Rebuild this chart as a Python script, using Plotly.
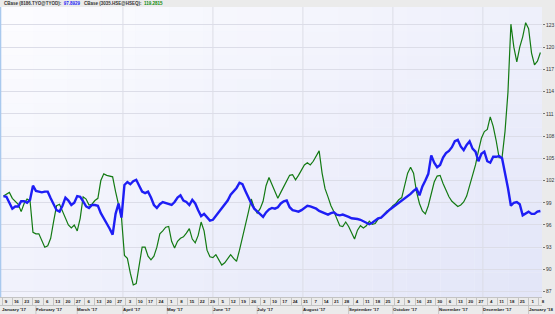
import plotly.graph_objects as go
import pandas as pd

# ---------------- data ----------------
dates = pd.date_range("2017-01-10", periods=183, freq="2D")

blue_8186 = [
    99.9, 99.8, 99.0, 98.2, 98.5, 98.5, 99.2, 99.2, 99.0, 99.4,
    101.3, 100.6, 100.5, 100.4, 100.5, 100.5, 99.6, 98.8, 98.0, 97.8,
    98.6, 99.7, 99.3, 98.7, 99.0, 99.9, 99.8, 99.2, 98.5, 98.3,
    98.7, 98.7, 98.6, 97.6, 96.8, 96.2, 95.5, 94.7, 97.5, 98.9,
    97.0, 101.4, 101.8, 101.5, 101.9, 102.1, 101.3, 100.5, 100.3, 100.5,
    99.7, 98.7, 98.3, 98.8, 99.1, 99.0, 98.9, 98.7, 99.1, 99.7,
    100.0, 99.3, 99.1, 98.7, 99.4, 98.9, 98.0, 97.2, 97.5, 97.1,
    96.6, 96.7, 97.2, 97.7, 98.2, 98.7, 99.3, 100.1, 100.6, 101.0,
    101.7, 101.5, 100.6, 99.7, 98.9, 98.2, 97.8, 97.4, 97.1, 97.7,
    98.1, 98.3, 98.2, 98.4, 98.9, 99.2, 99.3, 98.4, 98.0, 97.9,
    97.8, 98.0, 98.3, 98.6, 98.5, 98.4, 98.2, 97.9, 97.7, 97.5,
    97.4, 97.6, 97.7, 97.4, 97.3, 97.4, 97.3, 97.1, 96.9, 96.9,
    96.8, 96.7, 96.5, 96.3, 96.1, 96.3, 96.6, 96.9, 97.0, 97.4,
    97.7, 98.1, 98.4, 98.7, 99.0, 99.2, 99.6, 99.9, 100.2, 100.6,
    100.9, 100.0, 101.2, 102.0, 102.9, 105.4, 104.4, 103.8, 104.1, 105.1,
    105.7, 106.0, 106.5, 107.3, 107.5, 106.6, 106.1, 106.8, 107.3, 106.3,
    105.9, 104.6, 105.6, 105.9, 104.6, 104.4, 105.2, 105.2, 105.3, 105.0,
    103.2, 101.0, 98.6, 99.0, 99.1, 98.8, 97.3, 97.6, 97.8, 97.5,
    97.5, 97.8, 97.8929,
]

green_3035 = [
    99.9, 100.1, 100.4, 99.6, 99.2, 98.8, 97.8, 98.9, 99.5, 99.3,
    95.0, 94.8, 94.8, 93.8, 93.0, 93.2, 94.2, 96.5, 98.6, 98.8,
    97.8, 96.8, 96.0, 95.6, 96.0, 95.2, 96.9, 99.8, 99.5, 98.7,
    98.8, 99.3, 99.6, 102.0, 102.9, 102.7, 102.6, 102.5, 100.5, 98.8,
    97.0, 91.9, 91.5, 89.5, 87.9, 88.1, 90.6, 93.0, 93.0, 91.8,
    91.3, 91.8, 93.0, 94.8, 95.2, 95.7, 95.8, 93.8, 92.9, 93.8,
    94.2, 94.4, 94.9, 95.5, 94.1, 93.6, 94.6, 96.4, 95.2, 92.6,
    91.7, 91.6, 92.0, 91.2, 90.6, 90.9, 91.4, 92.0, 91.5, 91.1,
    92.6, 94.2, 96.0, 97.7, 99.5, 98.3, 97.6, 98.2, 99.2, 101.3,
    102.4, 101.5, 100.4, 99.6, 100.4, 101.2, 102.1, 102.7, 102.8, 102.1,
    102.7, 103.5, 104.1, 104.4, 104.1, 104.6, 105.4, 106.0, 103.0, 100.9,
    99.8, 98.6, 97.8, 96.9, 95.9, 95.8, 96.4, 95.8, 94.9, 94.1,
    95.3, 95.9, 95.6, 95.9, 96.5, 96.1, 96.2, 96.8, 97.0, 97.4,
    97.9, 98.1, 98.6, 98.9, 99.4, 99.7, 101.2, 103.0, 103.8, 103.0,
    100.5, 98.9, 97.9, 97.5, 98.6, 100.2, 101.8, 102.6, 102.7, 101.6,
    100.7, 99.8, 99.2, 98.9, 98.5, 98.7, 99.1, 99.9, 101.2, 102.5,
    104.1, 106.0, 107.7, 108.6, 108.9, 110.6, 109.3, 107.4, 105.1, 105.1,
    108.6, 113.9, 123.1, 120.0, 118.0, 120.0, 121.4, 123.3, 122.5, 119.2,
    117.6, 118.1, 119.2815,
]

blue_name = "CBase (8186.TYO@TYOD):"
green_name = "CBase (3035.HSE@HSEQ):"
blue_last = "97.8929"
green_last = "119.2815"

week_ticks = pd.date_range("2017-01-09", "2018-01-08", freq="7D")
week_labels = [str(d.day) for d in week_ticks]

month_starts = ["2017-01-09", "2017-02-01", "2017-03-01", "2017-04-01", "2017-05-01",
                "2017-06-01", "2017-07-01", "2017-08-01", "2017-09-01", "2017-10-01",
                "2017-11-01", "2017-12-01", "2018-01-01"]
month_labels = ["January '17", "February '17", "March '17", "April '17", "May '17",
                "June '17", "July '17", "August '17", "September '17", "October '17",
                "November '17", "December '17", "January '18"]
grid_dates = ["2017-04-01", "2017-06-01", "2017-08-01", "2017-10-01", "2017-12-01"]
y_ticks = list(range(87, 124, 3))

# ---------------- figure ----------------
W, H = 555, 314
ML, MR, MT, MB = 0, 13, 7, 17
PH = H - MT - MB
FONT = "Liberation Sans"
BLUE = "#1e1ef5"
GREEN = "#137a13"

fig = go.Figure()
fig.add_trace(go.Scatter(x=dates, y=green_3035, mode="lines",
                         line=dict(color=GREEN, width=1.2), name=green_name,
                         hoverinfo="skip"))
fig.add_trace(go.Scatter(x=dates, y=blue_8186, mode="lines",
                         line=dict(color=BLUE, width=2.4), name=blue_name,
                         hoverinfo="skip"))

shapes = []
# gradient background of plot area
NC, NR = 16, 12
c0 = (253, 253, 255)
c1 = (226, 229, 248)
for i in range(NC):
    for j in range(NR):
        t = ((i + 0.5) / NC * 0.55 + (j + 0.5) / NR * 0.45)
        col = tuple(round(c0[k] + (c1[k] - c0[k]) * t) for k in range(3))
        shapes.append(dict(type="rect", xref="paper", yref="paper",
                           x0=i / NC, x1=(i + 1) / NC,
                           y0=1 - (j + 1) / NR, y1=1 - j / NR,
                           fillcolor="rgb(%d,%d,%d)" % col, line=dict(width=0),
                           layer="below"))
# vertical grid lines
for d in grid_dates:
    shapes.append(dict(type="line", xref="x", yref="paper", x0=d, x1=d, y0=0, y1=1,
                       line=dict(color="#dcdde6", width=1), layer="below"))
# left border
shapes.append(dict(type="line", xref="paper", yref="paper", x0=0.001, x1=0.001, y0=0, y1=1,
                   line=dict(color="#a9c9ee", width=1.5)))
# bottom rows
row_sep = -8.5 / PH
shapes.append(dict(type="line", xref="paper", yref="paper", x0=0, x1=1, y0=row_sep, y1=row_sep,
                   line=dict(color="#c4c4c4", width=1)))
for d in month_starts[1:]:
    shapes.append(dict(type="line", xref="x", yref="paper", x0=d, x1=d,
                       y0=row_sep, y1=-MB / PH, line=dict(color="#c4c4c4", width=1)))

annotations = []
for d, lab in zip(month_starts, month_labels):
    annotations.append(dict(x=d, xref="x", y=-12.8 / PH, yref="paper", text=lab,
                            showarrow=False, xanchor="left", yanchor="middle",
                            xshift=-1, borderpad=0,
                            font=dict(family=FONT, size=4.4, color="#222", weight="bold")))
hy = 1 + 3.6 / PH
hdr = [(2.5, blue_name, blue_last, BLUE), (83, green_name, green_last, "#0a8a0a")]
for px, name, val, col in hdr:
    txt = name + "  " + "<span style='color:%s'>%s</span>" % (col, val)
    annotations.append(dict(x=px / (W - ML - MR), xref="paper", y=hy, yref="paper", text=txt,
                            showarrow=False, xanchor="left", yanchor="middle", borderpad=0,
                            font=dict(family=FONT, size=4.5, color="#333", weight="bold")))

fig.update_layout(
    width=W, height=H, autosize=False,
    margin=dict(l=ML, r=MR, t=MT, b=MB, pad=0),
    paper_bgcolor="#ebebeb", plot_bgcolor="#f3f4fc",
    showlegend=False,
    shapes=shapes, annotations=annotations,
    xaxis=dict(
        type="date",
        range=["2017-01-07 15:30", "2018-01-10 02:00"],
        tickmode="array", tickvals=week_ticks, ticktext=week_labels,
        ticks="outside", ticklen=8, tickwidth=1, tickcolor="#c4c4c4",
        ticklabelstandoff=-8, ticklabelshift=4,
        tickfont=dict(family=FONT, size=4.4, color="#222", weight="bold"),
        showgrid=False, zeroline=False,
        showline=True, linecolor="#c4c4c4", linewidth=1,
        fixedrange=True,
    ),
    yaxis=dict(
        side="right", range=[86.28, 125.42],
        tickmode="array", tickvals=y_ticks,
        ticks="outside", ticklen=2, tickcolor="#777",
        tickfont=dict(family=FONT, size=5, color="#333"),
        showgrid=True, gridcolor="#dcdde8", gridwidth=1,
        zeroline=False, showline=False, fixedrange=True,
    ),
)

fig.write_html("out.html")
